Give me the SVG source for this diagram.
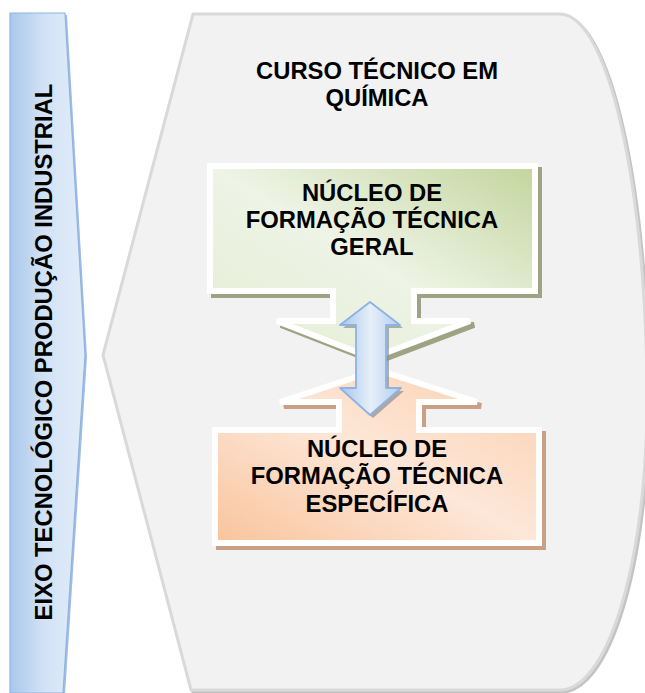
<svg xmlns="http://www.w3.org/2000/svg" width="645" height="693" viewBox="0 0 645 693">
<style>
.t{font-family:"Liberation Sans",Arial,sans-serif;font-weight:bold;font-size:23.8px;fill:#000;text-anchor:middle}
</style>
<defs>
<linearGradient id="gBar" x1="0" y1="0" x2="1" y2="0">
<stop offset="0" stop-color="#a9c7eb"/>
<stop offset="0.45" stop-color="#d2e2f5"/>
<stop offset="1" stop-color="#e3edf9"/>
</linearGradient>
<linearGradient id="gGreen" x1="0" y1="1" x2="1" y2="0">
<stop offset="0" stop-color="#e3ecd3"/>
<stop offset="0.5" stop-color="#eef4e6"/>
<stop offset="1" stop-color="#c3d59d"/>
</linearGradient>
<linearGradient id="gOrange" x1="0" y1="1" x2="1" y2="0">
<stop offset="0" stop-color="#f9c49c"/>
<stop offset="0.5" stop-color="#fde7d8"/>
<stop offset="1" stop-color="#fbcfae"/>
</linearGradient>
<linearGradient id="gArrow" x1="0" y1="0" x2="1" y2="0">
<stop offset="0" stop-color="#a7c5ea"/>
<stop offset="0.5" stop-color="#e6effa"/>
<stop offset="1" stop-color="#b3cdec"/>
</linearGradient>
</defs>
<rect width="645" height="693" fill="#fff"/>
<g id="eixo">
<polygon points="12,15 67,15 87,357 65,695 12,695" fill="#9fbde3"/>
<polygon points="10,13 65,13 85,355 63,693 10,693" fill="url(#gBar)" stroke="#8fb4e2" stroke-width="1.2"/>
<text class="t" transform="translate(52,352) rotate(-90)">EIXO TECNOLÓGICO PRODUÇÃO INDUSTRIAL</text>
</g>
<g id="curso">
<path d="M195,16 L562,16 A87,386 0 0 1 649,402 A87,290 0 0 1 562,692 L193,692 L105,357 Z" fill="none" stroke="#c4c4c4" stroke-width="3"/>
<path d="M193,14 L560,14 A87,386 0 0 1 647,400 A87,290 0 0 1 560,690 L191,690 L103,355 Z" fill="#f2f2f2" stroke="#d9d9d9" stroke-width="3"/>
<text class="t" x="377" y="79">CURSO TÉCNICO EM</text>
<text class="t" x="377" y="106">QUÍMICA</text>
</g>
<g id="nucleo-geral">
<path d="M214,170 H539 V295 H418 V325 H474 L376,362 L281,325 H337 V295 H214 Z" fill="#9ea383" stroke="#9ea383" stroke-width="6" stroke-linejoin="miter"/>
<path d="M210,166 H535 V291 H414 V321 H470 L372,358 L277,321 H333 V291 H210 Z" fill="url(#gGreen)" stroke="#fff" stroke-width="6"/>
<text class="t" x="372" y="201">NÚCLEO DE</text>
<text class="t" x="372" y="228">FORMAÇÃO TÉCNICA</text>
<text class="t" x="372" y="255">GERAL</text>
</g>
<g id="nucleo-especifico">
<path d="M219,434 H343 V406 H284 L382,374 L481,406 H423 V434 H543 V547 H219 Z" fill="#c9a084" stroke="#c9a084" stroke-width="6"/>
<path d="M215,430 H339 V402 H280 L378,370 L477,402 H419 V430 H539 V543 H215 Z" fill="url(#gOrange)" stroke="#fff" stroke-width="6"/>
<text class="t" x="377" y="457">NÚCLEO DE</text>
<text class="t" x="377" y="484">FORMAÇÃO TÉCNICA</text>
<text class="t" x="377" y="512">ESPECÍFICA</text>
</g>
<g id="connectors">
<path d="M373,305 L403,328 H389 V391 H404 L373,418 L343,391 H359 V328 H343 Z" fill="#8f8f8f" opacity="0.7"/>
<path d="M370,302 L400,325 H386 V388 H401 L370,415 L340,388 H356 V325 H340 Z" fill="url(#gArrow)" stroke="#8db3e2" stroke-width="1.8" stroke-linejoin="round"/>
</g>
</svg>
